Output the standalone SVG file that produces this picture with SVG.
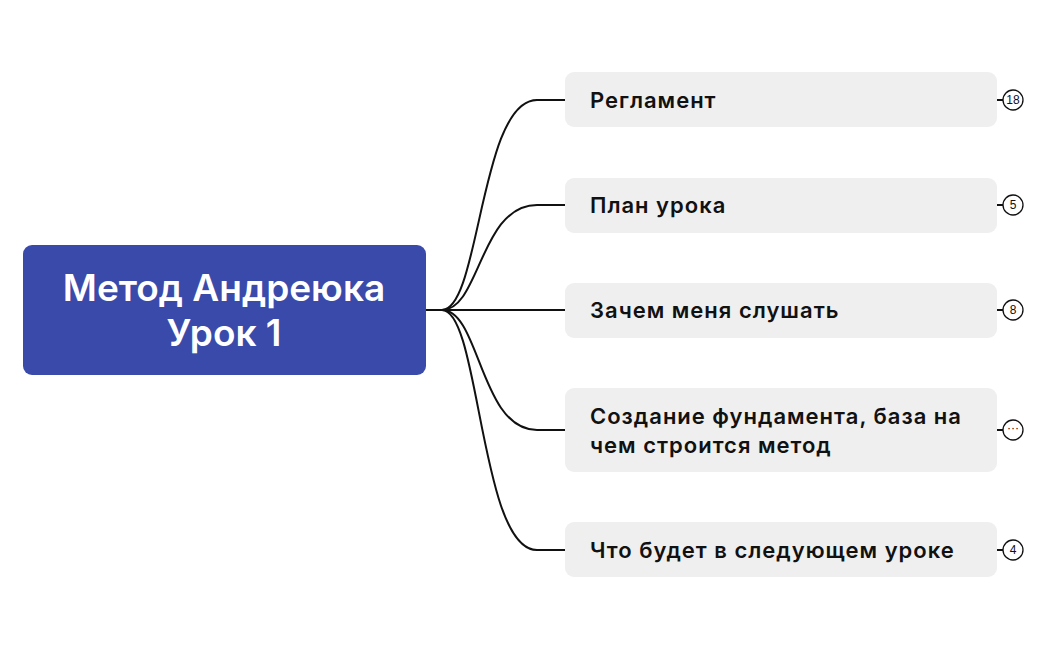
<svg xmlns="http://www.w3.org/2000/svg" width="1048" height="650" viewBox="0 0 1048 650">
<style>
.n{fill:#efefef}
.t{font-family:"Inter","Liberation Sans",sans-serif;font-weight:600;font-size:22px;letter-spacing:1px;fill:#111}
.c{fill:none;stroke:#111;stroke-width:2}
.b{fill:#fff;stroke:#111;stroke-width:1.3}
.bt{font-family:"Liberation Sans",sans-serif;font-size:12px;fill:#111;text-anchor:middle}
</style>
<rect width="1048" height="650" fill="#fff"/>
<g id="connectors">
<path class="c" d="M426 310H442"/>
<path class="c" d="M442 310C480 310 480 100 537 100H565"/>
<path class="c" d="M442 310C480 310 480 205 537 205H565"/>
<path class="c" d="M442 310H565"/>
<path class="c" d="M442 310C480 310 480 430 537 430H565"/>
<path class="c" d="M442 310C480 310 480 550 537 550H565"/>
<path class="c" d="M997 100h6M997 205h6M997 310h6M997 430h6M997 550h6"/>
</g>
<g id="root">
<rect x="23" y="245" width="403" height="130" rx="9" fill="#3a4aab"/>
<text x="224" y="301" text-anchor="middle" font-family="Inter,'Liberation Sans',sans-serif" font-weight="600" font-size="37" fill="#fff">Метод Андреюка</text>
<text x="224" y="346" text-anchor="middle" font-family="Inter,'Liberation Sans',sans-serif" font-weight="600" font-size="37" fill="#fff">Урок 1</text>
</g>
<g id="n1"><rect class="n" x="565" y="72" width="432" height="55" rx="9"/><text class="t" x="590" y="108">Регламент</text><circle class="b" cx="1013" cy="100" r="10"/><text class="bt" x="1013" y="104">18</text></g>
<g id="n2"><rect class="n" x="565" y="178" width="432" height="55" rx="9"/><text class="t" x="590" y="213">План урока</text><circle class="b" cx="1013" cy="205" r="10"/><text class="bt" x="1013" y="209">5</text></g>
<g id="n3"><rect class="n" x="565" y="283" width="432" height="55" rx="9"/><text class="t" x="590" y="318">Зачем меня слушать</text><circle class="b" cx="1013" cy="310" r="10"/><text class="bt" x="1013" y="314">8</text></g>
<g id="n4"><rect class="n" x="565" y="388" width="432" height="84" rx="9"/><text class="t" x="590" y="424">Создание фундамента, база на</text><text class="t" x="590" y="453">чем строится метод</text><circle class="b" cx="1013" cy="430" r="10"/><text class="bt" x="1013" y="432">···</text></g>
<g id="n5"><rect class="n" x="565" y="522" width="432" height="55" rx="9"/><text class="t" x="590" y="558">Что будет в следующем уроке</text><circle class="b" cx="1013" cy="550" r="10"/><text class="bt" x="1013" y="554">4</text></g>
</svg>
